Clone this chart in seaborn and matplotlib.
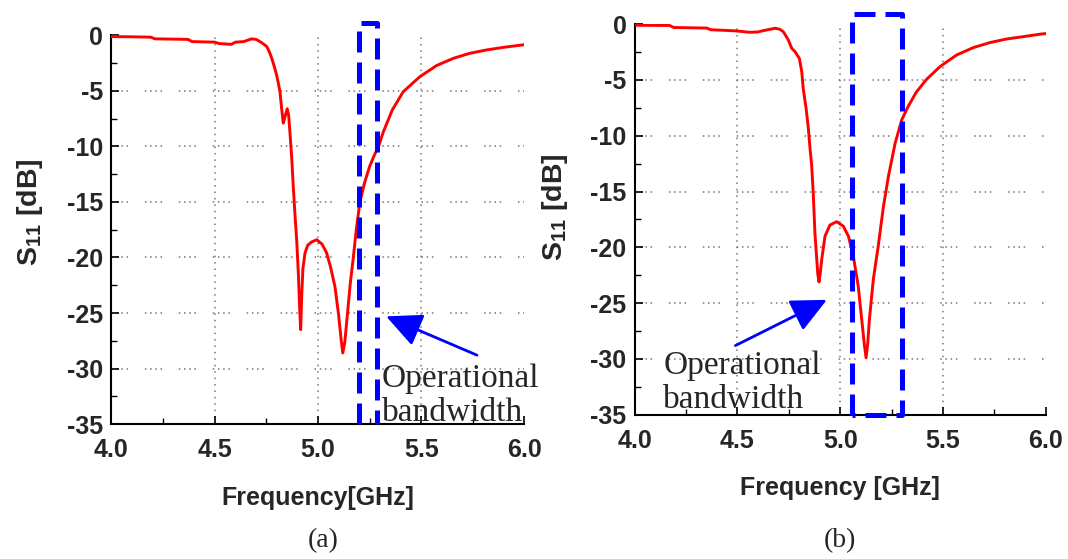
import matplotlib
matplotlib.use("Agg")
import matplotlib.pyplot as plt
import seaborn as sns
import pandas as pd

# ---- measured return loss, design (a) ----
freq_a = [4.00, 4.10, 4.19, 4.21, 4.37, 4.39, 4.50, 4.52, 4.58, 4.60, 4.64,
          4.679, 4.70, 4.719, 4.735, 4.752, 4.765, 4.776, 4.79, 4.80, 4.808,
          4.816, 4.824, 4.832, 4.842, 4.851, 4.858, 4.864, 4.873, 4.88, 4.888,
          4.897, 4.905, 4.911, 4.916, 4.921, 4.927, 4.937, 4.95, 4.969, 4.994,
          5.02, 5.042, 5.06, 5.082, 5.10, 5.112, 5.12, 5.13, 5.143, 5.156,
          5.171, 5.186, 5.203, 5.225, 5.25, 5.27, 5.293, 5.316, 5.36, 5.413,
          5.494, 5.575, 5.655, 5.736, 5.817, 5.897, 5.986, 6.00]
s11_a = [-0.10, -0.12, -0.15, -0.30, -0.35, -0.55, -0.60, -0.72, -0.80, -0.60,
         -0.55, -0.30, -0.35, -0.55, -0.75, -1.00, -1.50, -2.05, -2.90, -3.60,
         -4.30, -5.10, -6.60, -7.90, -7.20, -6.60, -7.20, -8.70, -11.1, -13.5,
         -16.0, -18.5, -21.5, -24.5, -26.5, -23.5, -21.0, -19.6, -18.9, -18.6,
         -18.4, -18.8, -19.6, -20.8, -22.6, -25.2, -27.4, -28.6, -27.6, -25.0,
         -22.4, -20.0, -17.4, -15.0, -13.3, -11.8, -10.9, -10.0, -8.70, -6.70,
         -5.06, -3.70, -2.70, -2.06, -1.60, -1.30, -1.07, -0.86, -0.83]

# ---- measured return loss, design (b) ----
freq_b = [4.00, 4.17, 4.19, 4.35, 4.37, 4.49, 4.561, 4.60, 4.626, 4.683, 4.705,
          4.723, 4.747, 4.764, 4.78, 4.801, 4.813, 4.82, 4.834, 4.845, 4.853,
          4.861, 4.869, 4.877, 4.886, 4.891, 4.897, 4.903, 4.91, 4.926, 4.95,
          4.983, 5.015, 5.04, 5.064, 5.088, 5.105, 5.118, 5.126, 5.134, 5.142,
          5.161, 5.185, 5.21, 5.234, 5.267, 5.299, 5.33, 5.37, 5.42, 5.486,
          5.567, 5.648, 5.729, 5.81, 5.891, 5.98, 6.00]
s11_b = [-0.10, -0.12, -0.30, -0.35, -0.50, -0.60, -0.73, -0.70, -0.58, -0.37,
         -0.45, -0.67, -1.40, -2.16, -2.46, -3.06, -4.26, -5.75, -7.54, -9.33,
         -11.1, -12.6, -15.2, -18.7, -21.1, -22.4, -23.1, -22.3, -21.1, -19.0,
         -18.0, -17.7, -18.1, -19.0, -20.8, -23.5, -26.5, -28.8, -29.9, -28.6,
         -26.5, -22.9, -19.9, -16.4, -13.7, -10.7, -8.60, -7.40, -6.10, -4.95,
         -3.80, -2.76, -2.10, -1.65, -1.33, -1.12, -0.88, -0.85]

# operating band edges (GHz) and top of the band outline (dB)
band_a = [5.200, 5.285]
band_b = [5.056, 5.300]
band_top_a = 1.1
band_top_b = 0.9

# arrow tail / tip (GHz, dB) and note anchor (baseline of last line)
arrow_a = [(5.77, -28.8), (5.33, -25.3)]
arrow_b = [(4.49, -28.8), (4.935, -24.7)]
note_a = (5.31, -34.7)
note_b = (4.14, -34.4)

x_ticks = [4.0, 4.5, 5.0, 5.5, 6.0]
x_ticklabels = ["4.0", "4.5", "5.0", "5.5", "6.0"]
y_ticks = [0, -5, -10, -15, -20, -25, -30, -35]
y_ticklabels = ["0", "-5", "-10", "-15", "-20", "-25", "-30", "-35"]
x_grid = [4.5, 5.0, 5.5]
y_grid = [-5, -10, -15, -20, -25, -30]

sns.set_theme(style="ticks")
plt.rcParams["font.family"] = ["Liberation Sans", "DejaVu Sans"]
plt.rcParams["mathtext.fontset"] = "custom"
plt.rcParams["mathtext.rm"] = "Liberation Sans"

RED = "#ff0000"
BLUE = "#0000ff"
SERIF = ["Liberation Serif", "DejaVu Serif"]

fig = plt.figure(figsize=(10.68, 5.59), dpi=100)
ax_a = fig.add_axes([0.1044, 0.2415, 0.3867, 0.6950])
ax_b = fig.add_axes([0.5943, 0.2580, 0.3848, 0.6988])


def style_axes(ax, xlabel, ylabel_xy):
    ax.set_xlim(4.0, 6.0)
    ax.set_ylim(-35, 0)
    ax.set_xticks(x_ticks)
    ax.set_xticklabels(x_ticklabels)
    ax.set_yticks(y_ticks)
    ax.set_yticklabels(y_ticklabels)
    ax.set_xticks([4.25, 4.75, 5.25, 5.75], minor=True)
    ax.set_yticks([-2.5, -7.5, -12.5, -17.5, -22.5, -27.5, -32.5], minor=True)
    ax.tick_params(which="major", direction="in", length=6, width=1.2,
                   color="black", labelsize=18)
    ax.tick_params(which="minor", direction="in", length=4, width=1.0,
                   color="black")
    ax.tick_params(axis="x", pad=10)
    ax.tick_params(axis="y", pad=6)
    for lab in ax.get_xticklabels() + ax.get_yticklabels():
        lab.set_fontweight("bold")
    for side in ("top", "right"):
        ax.spines[side].set_visible(False)
    for side in ("left", "bottom"):
        ax.spines[side].set_linewidth(1.5)
        ax.spines[side].set_color("black")
    for gx in x_grid:
        ax.axvline(gx, color="#777777", lw=1.1, ls=(0, (1, 3.2)), zorder=0)
    for gy in y_grid:
        ax.axhline(gy, color="#777777", lw=1.1,
                   ls=(0, (1, 2.4, 1, 2.4, 1, 2.4, 1, 11)), zorder=0)
    ax.set_xlabel(xlabel, fontsize=18, fontweight="bold", labelpad=17)
    ax.set_ylabel(r"S$_{\mathregular{11}}$ [dB]", fontsize=20.5,
                  fontweight="bold")
    ax.yaxis.set_label_coords(*ylabel_xy)
    ax.set_facecolor("white")


df_a = pd.DataFrame({"Frequency": freq_a, "S11": s11_a})
df_b = pd.DataFrame({"Frequency": freq_b, "S11": s11_b})

sns.lineplot(data=df_a, x="Frequency", y="S11", ax=ax_a, color=RED,
             lw=2.1, sort=False, zorder=3)
sns.lineplot(data=df_b, x="Frequency", y="S11", ax=ax_b, color=RED,
             lw=2.1, sort=False, zorder=3)

style_axes(ax_a, "Frequency[GHz]", (-0.16, 0.546))
style_axes(ax_b, "Frequency [GHz]", (-0.157, 0.532))

band_ls = (0, (4.2, 2.0))
# design (a): open outline resting on the axis
ax_a.plot([band_a[0], band_a[0], band_a[1], band_a[1]],
          [-35, band_top_a, band_top_a, -35], color=BLUE, lw=3.6,
          ls=band_ls, clip_on=False, zorder=4, solid_capstyle="butt")
# design (b): closed outline
ax_b.plot([band_b[0], band_b[0], band_b[1], band_b[1], band_b[0]],
          [-35, band_top_b, band_top_b, -35, -35], color=BLUE, lw=3.6,
          ls=band_ls, clip_on=False, zorder=4)

arrow_props = dict(arrowstyle="-|>,head_length=0.95,head_width=0.45",
                   color=BLUE, lw=2.0, mutation_scale=23,
                   shrinkA=0, shrinkB=0)
ax_a.annotate("", xy=arrow_a[1], xytext=arrow_a[0],
              arrowprops=arrow_props, annotation_clip=False, zorder=5)
ax_b.annotate("", xy=arrow_b[1], xytext=arrow_b[0],
              arrowprops=arrow_props, annotation_clip=False, zorder=5)

ax_a.text(note_a[0], note_a[1], "Operational\nbandwidth", family=SERIF,
          fontsize=24, ha="left", va="baseline", linespacing=1.15,
          clip_on=False, zorder=6)
ax_b.text(note_b[0], note_b[1], "Operational\nbandwidth", family=SERIF,
          fontsize=24, ha="left", va="baseline", linespacing=1.15,
          clip_on=False, zorder=6)

fig.text(323 / 1068, 1 - 541 / 559, "(a)", family=SERIF, fontsize=20,
         ha="center", va="center")
fig.text(840 / 1068, 1 - 541 / 559, "(b)", family=SERIF, fontsize=20,
         ha="center", va="center")

fig.savefig("out.png", dpi=100, facecolor="white")
